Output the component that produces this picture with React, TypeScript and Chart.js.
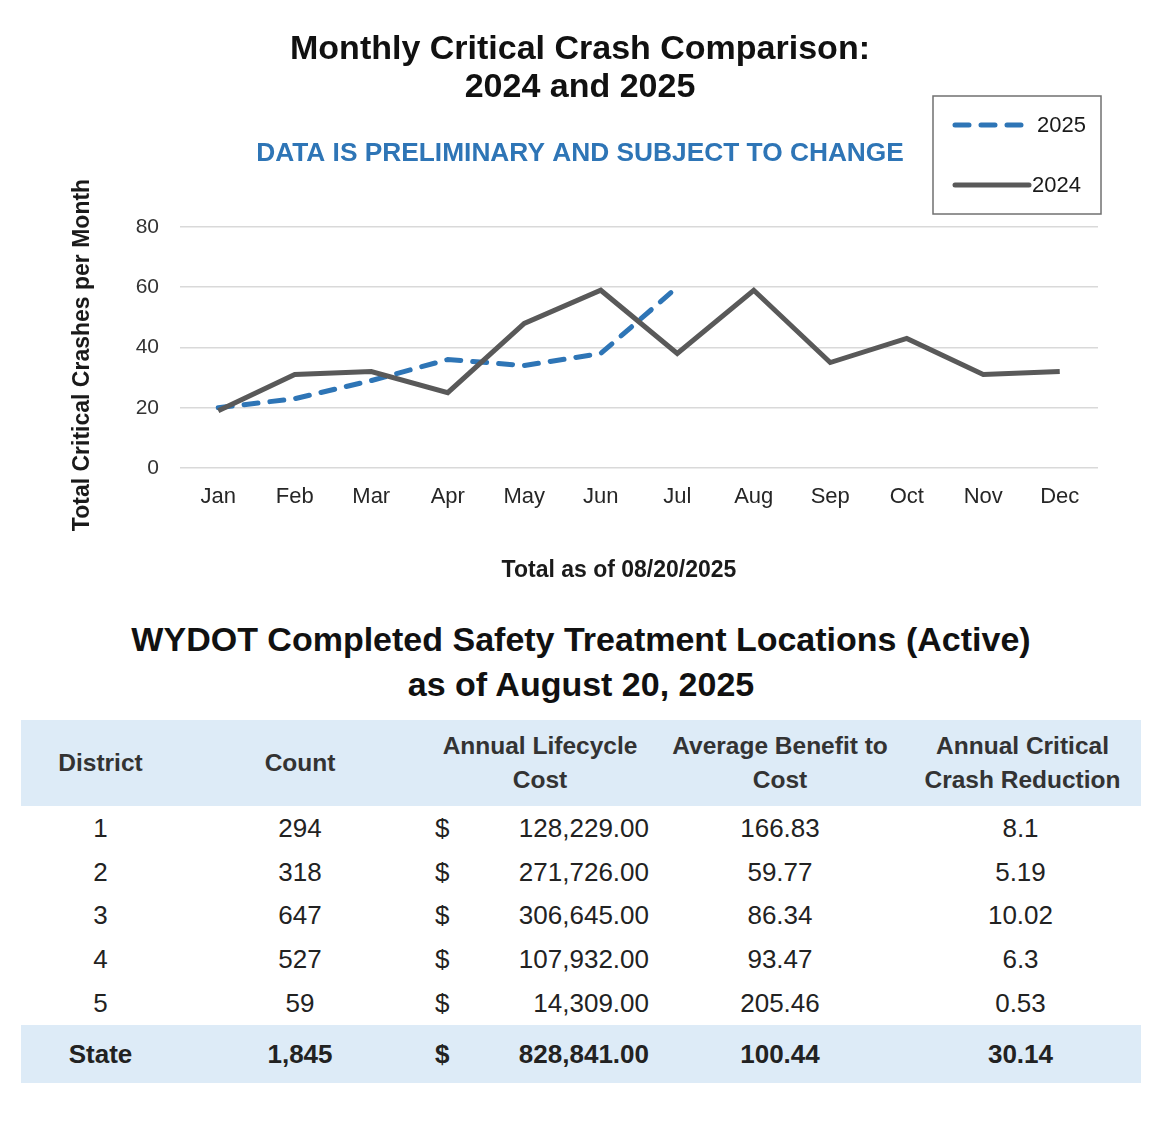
import React, { useEffect, useRef } from 'react';
import { Chart, registerables } from 'chart.js';

Chart.register(...registerables);

const FONT = '"Liberation Sans", Arial, Helvetica, sans-serif';

// ---------- chart data ----------
const months = ['Jan', 'Feb', 'Mar', 'Apr', 'May', 'Jun', 'Jul', 'Aug', 'Sep', 'Oct', 'Nov', 'Dec'];
const crashes2024 = [19, 31, 32, 25, 48, 59, 38, 59, 35, 43, 31, 32];
const crashes2025 = [20, 23, 29, 36, 34, 38, 60, null, null, null, null, null];
const yMin = 0;
const yMax = 80;
const yStep = 20;

const chartTitle = ['Monthly Critical Crash Comparison:', '2024 and 2025'];
const chartSubtitle = 'DATA IS PRELIMINARY AND SUBJECT TO CHANGE';
const yAxisTitle = 'Total Critical Crashes per Month';
const xAxisTitle = 'Total as of 08/20/2025';

// ---------- table data ----------
const tableTitle = ['WYDOT Completed Safety Treatment Locations (Active)', 'as of August 20, 2025'];
const tableHeaders = [['District'], ['Count'], ['Annual Lifecycle', 'Cost'], ['Average Benefit to', 'Cost'], ['Annual Critical', 'Crash Reduction']];
const districts = ['1', '2', '3', '4', '5'];
const counts = ['294', '318', '647', '527', '59'];
const lifecycleCosts = ['128,229.00', '271,726.00', '306,645.00', '107,932.00', '14,309.00'];
const benefitToCost = ['166.83', '59.77', '86.34', '93.47', '205.46'];
const crashReduction = ['8.1', '5.19', '10.02', '6.3', '0.53'];
const stateRow = ['State', '1,845', '828,841.00', '100.44', '30.14'];

const BLUE = '#2e75b6';
const GREY = '#595959';

const boxLegend = {
  id: 'boxLegend',
  afterDraw(chart: any) {
    const ctx = chart.ctx;
    const x0 = 933;
    const y0 = 96;
    const w = 168;
    const h = 118;
    ctx.save();
    ctx.strokeStyle = '#707070';
    ctx.lineWidth = 1.5;
    ctx.setLineDash([]);
    ctx.strokeRect(x0, y0, w, h);
    const order = [1, 0];
    order.forEach((di, i) => {
      const ds = chart.data.datasets[di];
      const y = y0 + 29 + i * 60;
      ctx.beginPath();
      ctx.strokeStyle = ds.borderColor;
      ctx.lineWidth = ds.borderWidth;
      ctx.lineCap = 'round';
      ctx.setLineDash(ds.borderDash || []);
      ctx.moveTo(955, y);
      ctx.lineTo(di === 1 ? 1024 : 1029, y);
      ctx.stroke();
      ctx.setLineDash([]);
      ctx.fillStyle = '#1a1a1a';
      ctx.font = `22px ${FONT}`;
      ctx.textBaseline = 'middle';
      ctx.textAlign = 'left';
      ctx.fillText(ds.label, di === 1 ? 1037 : 1032, y + 1);
    });
    ctx.restore();
  },
};

const axisTitles = {
  id: 'axisTitles',
  afterDraw(chart: any) {
    const ctx = chart.ctx;
    ctx.save();
    ctx.fillStyle = '#1a1a1a';
    ctx.font = `bold 23px ${FONT}`;
    ctx.textAlign = 'center';
    ctx.textBaseline = 'middle';
    ctx.fillText(xAxisTitle, 619, 571);
    ctx.translate(83, 355);
    ctx.rotate(-Math.PI / 2);
    ctx.fillText(yAxisTitle, 0, 0);
    ctx.restore();
  },
};

function CrashChart() {
  const ref = useRef<HTMLCanvasElement | null>(null);
  useEffect(() => {
    if (!ref.current) return;
    Chart.defaults.font.family = FONT;
    const chart = new Chart(ref.current, {
      type: 'line',
      data: {
        labels: months,
        datasets: [
          {
            label: '2024',
            data: crashes2024,
            borderColor: GREY,
            backgroundColor: GREY,
            borderWidth: 5,
            pointRadius: 0,
            tension: 0,
            borderJoinStyle: 'miter',
          },
          {
            label: '2025',
            data: crashes2025,
            borderColor: BLUE,
            backgroundColor: BLUE,
            borderWidth: 5,
            borderDash: [14, 12],
            borderCapStyle: 'round',
            pointRadius: 0,
            tension: 0,
            spanGaps: false,
          },
        ],
      },
      options: {
        responsive: false,
        animation: false,
        devicePixelRatio: 1,
        layout: { padding: { left: 62, right: 76, top: 0, bottom: 0 } },
        plugins: {
          legend: { display: false },
          tooltip: { enabled: false },
          title: {
            display: true,
            text: chartTitle,
            color: '#111111',
            font: { size: 34, weight: 'bold', lineHeight: 1.1 },
            padding: { top: 31.3, bottom: 0 },
          },
          subtitle: {
            display: true,
            text: chartSubtitle,
            color: BLUE,
            font: { size: 26.3, weight: 'bold', lineHeight: 1.2 },
            padding: { top: 32.1, bottom: 57.2 },
          },
        },
        scales: {
          x: {
            offset: true,
            grid: { display: false, drawTicks: false },
            border: { display: false },
            ticks: { color: '#262626', font: { size: 22 }, padding: 16, maxRotation: 0 },
            afterFit: (s: any) => {
              s.height = 132;
            },
          },
          y: {
            min: yMin,
            max: yMax,
            grid: { color: '#d9d9d9', lineWidth: 1.5, drawTicks: false },
            border: { display: false },
            ticks: { stepSize: yStep, color: '#333333', font: { size: 21 }, padding: 21 },
            afterFit: (s: any) => {
              s.width = 118;
            },
          },
        },
      },
      plugins: [boxLegend, axisTitles],
    });
    return () => chart.destroy();
  }, []);
  return (
    <div style={{ position: 'absolute', left: 0, top: 0, width: 1174, height: 600 }}>
      <canvas ref={ref} width={1174} height={600} />
    </div>
  );
}

const HEADER_BG = '#ddebf7';
const cellBase: React.CSSProperties = {
  textAlign: 'center',
  verticalAlign: 'middle',
  padding: 0,
  fontSize: 26,
  color: '#222222',
};

function CostCell({ value, bold }: { value: string; bold?: boolean }) {
  return (
    <td style={{ ...cellBase, fontWeight: bold ? 'bold' : 'normal' }}>
      <div style={{ display: 'flex', justifyContent: 'space-between', paddingLeft: 15, paddingRight: 11 }}>
        <span>$</span>
        <span>{value}</span>
      </div>
    </td>
  );
}

function SafetyTable() {
  const colWidths = [159, 240, 240, 240, 241];
  return (
    <>
      <div
        style={{
          position: 'absolute',
          left: 0,
          top: 617,
          width: 1162,
          textAlign: 'center',
          fontFamily: FONT,
          fontWeight: 'bold',
          fontSize: 34,
          lineHeight: '45px',
          color: '#111111',
        }}
      >
        {tableTitle.map((t) => (
          <div key={t}>{t}</div>
        ))}
      </div>
      <table
        style={{
          position: 'absolute',
          left: 21,
          top: 720,
          width: 1120,
          borderCollapse: 'collapse',
          tableLayout: 'fixed',
          fontFamily: FONT,
        }}
      >
        <colgroup>
          {colWidths.map((w, i) => (
            <col key={i} style={{ width: w }} />
          ))}
        </colgroup>
        <tbody>
          <tr style={{ background: HEADER_BG, height: 86 }}>
            {tableHeaders.map((lines, i) => (
              <td
                key={i}
                style={{
                  ...cellBase,
                  fontSize: 24.5,
                  fontWeight: 'bold',
                  color: '#333333',
                  lineHeight: '34px',
                  paddingLeft: i === 4 ? 4 : 0,
                  whiteSpace: 'nowrap',
                }}
              >
                {lines.map((l, j) => (
                  <div key={j}>{l}</div>
                ))}
              </td>
            ))}
          </tr>
          {districts.map((d, i) => (
            <tr key={d} style={{ height: i === 2 ? 43 : 44 }}>
              <td style={cellBase}>{d}</td>
              <td style={cellBase}>{counts[i]}</td>
              <CostCell value={lifecycleCosts[i]} />
              <td style={cellBase}>{benefitToCost[i]}</td>
              <td style={cellBase}>{crashReduction[i]}</td>
            </tr>
          ))}
          <tr style={{ background: HEADER_BG, height: 58 }}>
            <td style={{ ...cellBase, fontWeight: 'bold' }}>{stateRow[0]}</td>
            <td style={{ ...cellBase, fontWeight: 'bold' }}>{stateRow[1]}</td>
            <CostCell value={stateRow[2]} bold />
            <td style={{ ...cellBase, fontWeight: 'bold' }}>{stateRow[3]}</td>
            <td style={{ ...cellBase, fontWeight: 'bold' }}>{stateRow[4]}</td>
          </tr>
        </tbody>
      </table>
    </>
  );
}

export default function App() {
  return (
    <div style={{ position: 'absolute', left: 0, top: 0, width: 1174, height: 1123, background: '#ffffff' }}>
      <CrashChart />
      <SafetyTable />
    </div>
  );
}
